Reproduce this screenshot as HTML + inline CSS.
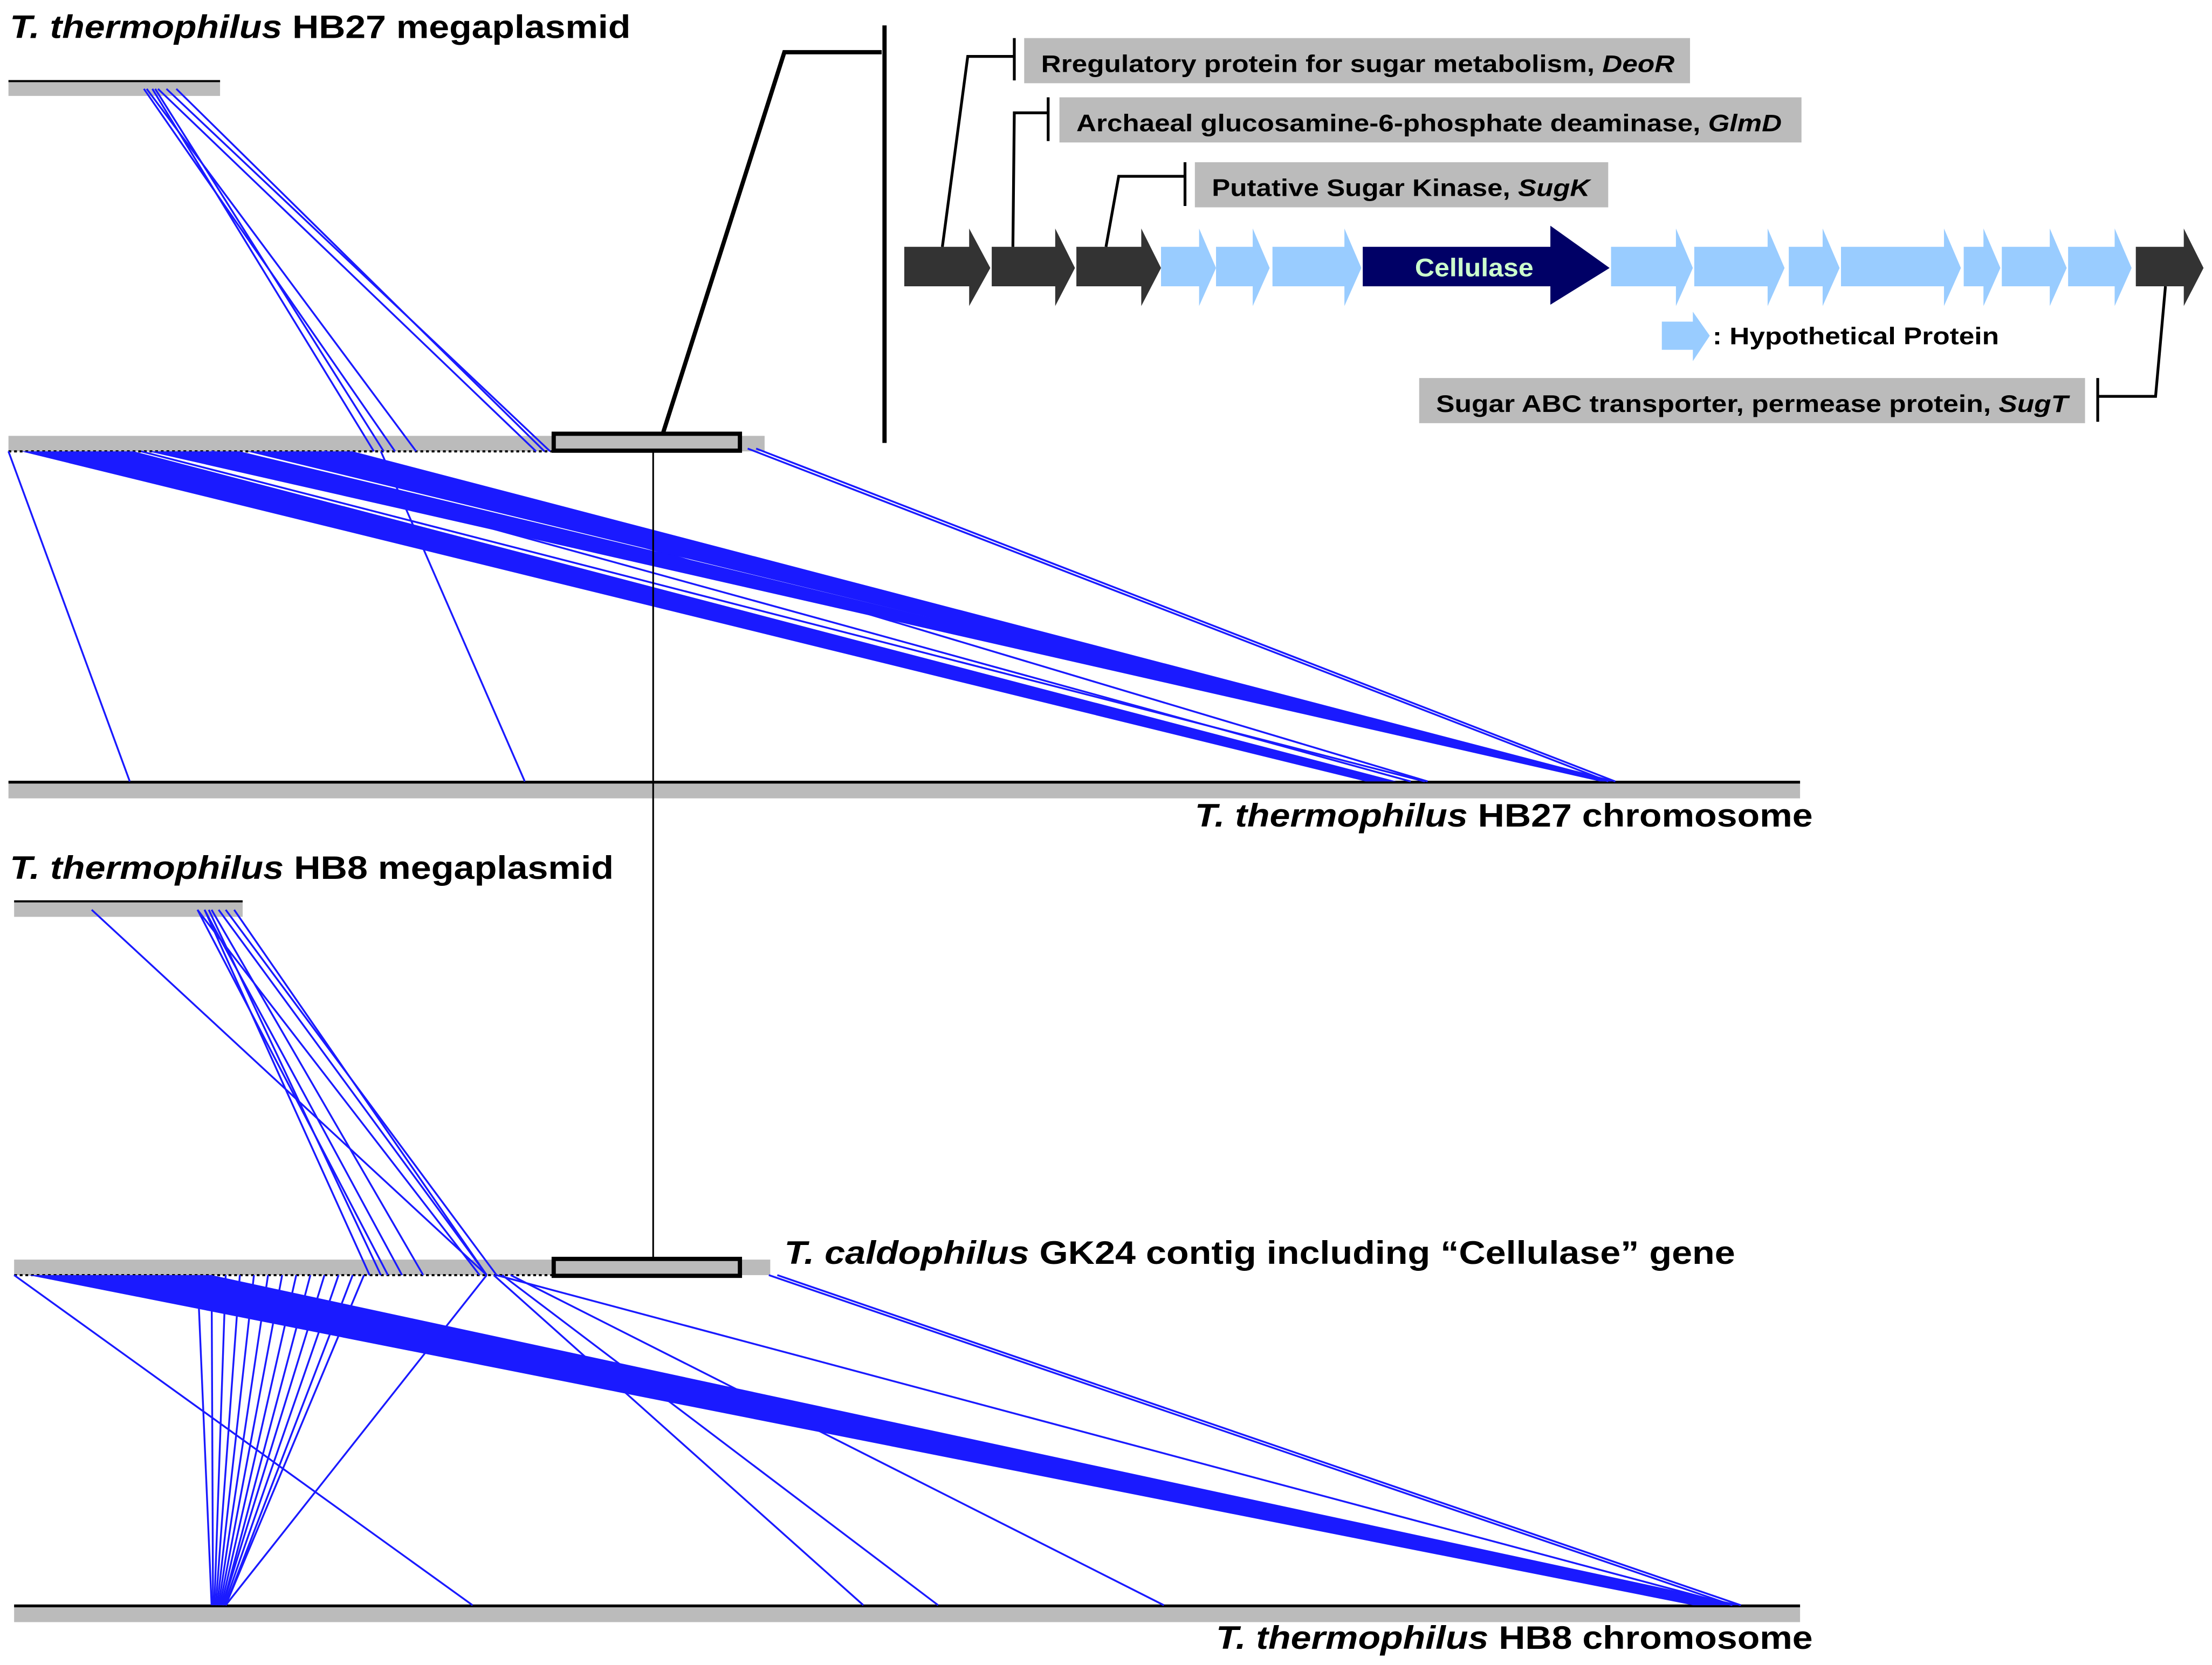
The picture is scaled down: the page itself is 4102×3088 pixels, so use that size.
<!DOCTYPE html>
<html><head><meta charset="utf-8"><style>html,body{margin:0;padding:0;background:#fff}svg{display:block}</style></head><body>
<svg width="4102" height="3088" viewBox="0 0 1568 1180.4" preserveAspectRatio="none" xmlns="http://www.w3.org/2000/svg" font-family="Liberation Sans, Arial, sans-serif">
<rect width="1568" height="1181" fill="#fff"/>
<!-- titles -->
<g font-size="23" font-weight="bold" lengthAdjust="spacingAndGlyphs">
<text x="7" y="27" textLength="440" lengthAdjust="spacingAndGlyphs"><tspan font-style="italic">T. thermophilus</tspan> HB27 megaplasmid</text>
<text x="847" y="586" textLength="438" lengthAdjust="spacingAndGlyphs"><tspan font-style="italic">T. thermophilus</tspan> HB27 chromosome</text>
<text x="7" y="623" textLength="428" lengthAdjust="spacingAndGlyphs"><tspan font-style="italic">T. thermophilus</tspan> HB8 megaplasmid</text>
<text x="556" y="896" textLength="674" lengthAdjust="spacingAndGlyphs"><tspan font-style="italic">T. caldophilus</tspan> GK24 contig including “Cellulase” gene</text>
<text x="862" y="1169" textLength="423" lengthAdjust="spacingAndGlyphs"><tspan font-style="italic">T. thermophilus</tspan> HB8 chromosome</text>
</g>

<!-- bars -->
<rect x="6" y="57" width="150" height="11" fill="#bbb"/><line x1="6" y1="57.5" x2="156" y2="57.5" stroke="#000" stroke-width="1.5"/>
<rect x="6" y="309" width="536" height="11" fill="#bbb"/>
<line x1="6" y1="320" x2="392" y2="320" stroke="#000" stroke-width="1.5" stroke-dasharray="2,2"/>
<rect x="6" y="555" width="1270" height="11" fill="#bbb"/><line x1="6" y1="554.5" x2="1276" y2="554.5" stroke="#000" stroke-width="2"/>
<rect x="10" y="639" width="162" height="11" fill="#bbb"/><line x1="10" y1="639" x2="172" y2="639" stroke="#000" stroke-width="1.5"/>
<rect x="10" y="893" width="536" height="11" fill="#bbb"/>
<line x1="10" y1="904" x2="392" y2="904" stroke="#000" stroke-width="1.5" stroke-dasharray="2,2"/>
<rect x="10" y="1139" width="1266" height="11" fill="#bbb"/><line x1="10" y1="1138.5" x2="1276" y2="1138.5" stroke="#000" stroke-width="2"/>

<!-- blue lines upper -->
<g stroke="#1a1aff" stroke-width="1.3" fill="none">
<line x1="102" y1="63" x2="280" y2="320"/><line x1="104" y1="63" x2="295" y2="320"/><line x1="108" y1="63" x2="265" y2="320"/>
<line x1="110" y1="63" x2="272" y2="320"/><line x1="112" y1="63" x2="380" y2="320"/><line x1="118" y1="63" x2="390" y2="320"/><line x1="125" y1="63" x2="386" y2="320"/>
<line x1="6" y1="320" x2="92" y2="554"/><line x1="270" y1="320" x2="372" y2="554"/>
<line x1="100" y1="320" x2="1010" y2="554"/><line x1="230" y1="320" x2="1012" y2="554"/><line x1="150" y1="320" x2="1000" y2="554"/>
<line x1="530" y1="318" x2="1140" y2="554"/><line x1="536" y1="318" x2="1145" y2="554"/>
</g>
<g fill="#1a1aff">
<polygon points="15,320 95,320 990,554 968,554"/>
<polygon points="105,320 170,320 1142,554 1134,554"/>
<polygon points="175,320 250,320 1146,554 1136,554"/>
</g>
<!-- blue lines lower -->
<g stroke="#1a1aff" stroke-width="1.3" fill="none">
<line x1="65" y1="645" x2="345" y2="904"/><line x1="140" y1="645" x2="275" y2="904"/><line x1="145" y1="645" x2="285" y2="904"/>
<line x1="150" y1="645" x2="300" y2="904"/><line x1="155" y1="645" x2="345" y2="904"/><line x1="160" y1="645" x2="352" y2="904"/>
<line x1="166" y1="645" x2="345" y2="904"/><line x1="140" y1="645" x2="340" y2="904"/><line x1="145" y1="645" x2="262" y2="904"/>
<line x1="148" y1="645" x2="270" y2="904"/>
<line x1="10" y1="904" x2="335" y2="1138"/><line x1="345" y1="904" x2="160" y2="1138"/>
<line x1="350" y1="904" x2="612" y2="1138"/><line x1="356" y1="904" x2="665" y2="1138"/><line x1="362" y1="904" x2="825" y2="1138"/>
<line x1="352" y1="904" x2="1228" y2="1138"/><line x1="545" y1="904" x2="1228" y2="1138"/><line x1="551" y1="904" x2="1234" y2="1138"/>
<line x1="140" y1="904" x2="150" y2="1138"/><line x1="150" y1="904" x2="151" y2="1138"/><line x1="160" y1="904" x2="152" y2="1138"/>
<line x1="170" y1="904" x2="153" y2="1138"/><line x1="180" y1="904" x2="154" y2="1138"/><line x1="190" y1="904" x2="155" y2="1138"/>
<line x1="200" y1="904" x2="156" y2="1138"/><line x1="210" y1="904" x2="157" y2="1138"/><line x1="220" y1="904" x2="158" y2="1138"/>
<line x1="230" y1="904" x2="158" y2="1138"/><line x1="240" y1="904" x2="159" y2="1138"/><line x1="250" y1="904" x2="160" y2="1138"/>
<line x1="258" y1="904" x2="160" y2="1138"/>
</g>
<g fill="#1a1aff">
<polygon points="20,904 150,904 1235,1138 1200,1138"/>
</g>

<!-- highlight boxes & connectors -->
<line x1="463" y1="319" x2="463" y2="893" stroke="#000" stroke-width="1.2"/>
<rect x="392.5" y="307.5" width="132" height="12" fill="#bbb" stroke="#000" stroke-width="3"/>
<rect x="392.5" y="892.5" width="132" height="12" fill="#bbb" stroke="#000" stroke-width="3"/>
<polyline points="470,307 556,37 625,37" fill="none" stroke="#000" stroke-width="3"/>
<line x1="627" y1="18" x2="627" y2="314" stroke="#000" stroke-width="3"/>

<!-- gene labels -->
<g font-size="17" font-weight="bold">
<rect x="726" y="27" width="472" height="32" fill="#bbb"/><text x="738" y="51" textLength="449" lengthAdjust="spacingAndGlyphs">Rregulatory protein for sugar metabolism, <tspan font-style="italic">DeoR</tspan></text>
<rect x="751" y="69" width="526" height="32" fill="#bbb"/><text x="763" y="93" textLength="500" lengthAdjust="spacingAndGlyphs">Archaeal glucosamine-6-phosphate deaminase, <tspan font-style="italic">GlmD</tspan></text>
<rect x="847" y="115" width="293" height="32" fill="#bbb"/><text x="859" y="139" textLength="268" lengthAdjust="spacingAndGlyphs">Putative Sugar Kinase, <tspan font-style="italic">SugK</tspan></text>
<rect x="1006" y="268" width="472" height="32" fill="#bbb"/><text x="1018" y="292" textLength="448" lengthAdjust="spacingAndGlyphs">Sugar ABC transporter, permease protein, <tspan font-style="italic">SugT</tspan></text>
<text x="1214" y="244" textLength="203" lengthAdjust="spacingAndGlyphs">: Hypothetical Protein</text>
</g>
<g fill="none" stroke="#000" stroke-width="2">
<polyline points="668,175 686,40 719,40"/><line x1="719" y1="27" x2="719" y2="57"/>
<polyline points="718,175 719,80 743,80"/><line x1="743" y1="69" x2="743" y2="100"/>
<polyline points="784,175 793,125 840,125"/><line x1="840" y1="115" x2="840" y2="146"/>
<polyline points="1535,203 1528,281 1487,281"/><line x1="1487" y1="268" x2="1487" y2="299"/>
</g>

<!-- gene arrows -->
<g fill="#9cf">
<polygon points="823,175 850,175 850,162 862,190 850,217 850,203 823,203"/>
<polygon points="862,175 888,175 888,162 900,190 888,217 888,203 862,203"/>
<polygon points="902,175 953,175 953,162 965,190 953,217 953,203 902,203"/>
<polygon points="1142,175 1188,175 1188,162 1200,190 1188,217 1188,203 1142,203"/>
<polygon points="1201,175 1253,175 1253,162 1265,190 1253,217 1253,203 1201,203"/>
<polygon points="1268,175 1292,175 1292,162 1304,190 1292,217 1292,203 1268,203"/>
<polygon points="1305,175 1378,175 1378,162 1390,190 1378,217 1378,203 1305,203"/>
<polygon points="1392,175 1406,175 1406,162 1418,190 1406,217 1406,203 1392,203"/>
<polygon points="1419,175 1453,175 1453,162 1465,190 1453,217 1453,203 1419,203"/>
<polygon points="1466,175 1499,175 1499,162 1511,190 1499,217 1499,203 1466,203"/>
<polygon points="1178,228 1200,228 1200,221 1212,238 1200,256 1200,248 1178,248"/>
</g>
<g fill="#333">
<polygon points="641,175 687,175 687,162 702,190 687,217 687,203 641,203"/>
<polygon points="703,175 748,175 748,162 762,190 748,217 748,203 703,203"/>
<polygon points="763,175 809,175 809,162 823,190 809,217 809,203 763,203"/>
<polygon points="1514,175 1548,175 1548,162 1562,190 1548,217 1548,203 1514,203"/>
</g>
<polygon points="966,175 1099,175 1099,160 1141,190 1099,216 1099,203 966,203" fill="#000066"/>
<text x="1003" y="196" font-size="18" font-weight="bold" fill="#ccffcc" textLength="84" lengthAdjust="spacingAndGlyphs">Cellulase</text>
</svg>
</body></html>
